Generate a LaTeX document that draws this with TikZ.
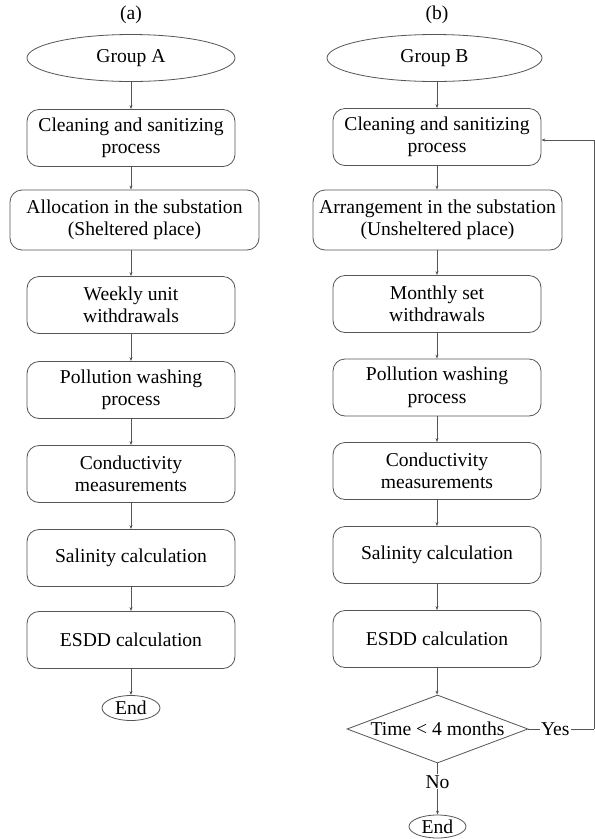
\documentclass[tikz,border=0pt]{standalone}
\usepackage{fontspec}
\setmainfont{Liberation Serif}
\newfontfamily\tnr{Liberation Serif}
\usetikzlibrary{shapes.geometric,arrows.meta}
\definecolor{ln}{HTML}{555555}
\begin{document}
\begin{tikzpicture}[x=1pt,y=-1pt,
  every node/.style={font=\tnr\fontsize{19.6}{22.5}\selectfont, text=black},
  proc/.style={draw=ln, line width=0.8pt, rounded corners=12pt, minimum width=#1, minimum height=57pt, align=center, inner sep=1pt},
  proc/.default=208pt,
  term/.style={draw=ln, line width=0.8pt, ellipse, minimum width=#1, inner sep=0pt, align=center},
  dec/.style={draw=ln, line width=0.8pt, diamond, minimum width=181pt, minimum height=68pt, inner sep=0pt},
  arr/.style={draw=ln, line width=0.7pt, -{Stealth[length=4pt,width=3pt]}},
  lab/.style={fill=white, inner sep=1pt}]
\useasboundingbox (0,0) rectangle (595,839);
\fill[white] (0,0) rectangle (595,839);
% column (a)
\node (ta) at (131,15) {(a)};
\node[term=208pt, minimum height=47pt] (a0) at (131,58) {Group A};
\node[proc] (a1) at (131,138) {Cleaning and sanitizing\\process};
\node[proc=249pt, minimum height=60pt] (a2) at (134.5,220) {Allocation in the substation\\(Sheltered place)};
\node[proc] (a3) at (131,305) {Weekly unit\\withdrawals};
\node[proc] (a4) at (131,390) {Pollution washing\\process};
\node[proc] (a5) at (131,474) {Conductivity\\measurements};
\node[proc] (a6) at (131,558) {Salinity calculation};
\node[proc] (a7) at (131,640) {ESDD calculation};
\node[term=58pt, minimum height=25pt] (a8) at (131,708) {End};
\draw[arr] (a0) -- (a1);
\draw[arr] (a1) -- (a1 |- a2.north);
\draw[arr] (a1 |- a2.south) -- (a3);
\draw[arr] (a3) -- (a4);
\draw[arr] (a4) -- (a5);
\draw[arr] (a5) -- (a6);
\draw[arr] (a6) -- (a7);
\draw[arr] (a7) -- (a8);
% column (b)
\node (tb) at (437,15) {(b)};
\node[term=215pt, minimum height=47pt] (b0) at (434.5,58) {Group B};
\node[proc] (b1) at (437,137) {Cleaning and sanitizing\\process};
\node[proc=249pt, minimum height=60pt] (b2) at (437.5,220) {Arrangement in the substation\\(Unsheltered place)};
\node[proc] (b3) at (437,304) {Monthly set\\withdrawals};
\node[proc] (b4) at (437,387.5) {Pollution washing\\process};
\node[proc] (b5) at (437,471) {Conductivity\\measurements};
\node[proc] (b6) at (437,555) {Salinity calculation};
\node[proc] (b7) at (437,639) {ESDD calculation};
\node[dec] (b8) at (437.5,729) {};
\node (b8t) at (b8) {Time < 4 months};
\node[term=57pt, minimum height=23pt] (b9) at (437.5,826.5) {End};
\coordinate (c1) at (594,729);
\coordinate (c2) at (594,140);
\draw[arr] (b0.south -| b1) -- (b1);
\draw[arr] (b1) -- (b1 |- b2.north);
\draw[arr] (b1 |- b2.south) -- (b3);
\draw[arr] (b3) -- (b4);
\draw[arr] (b4) -- (b5);
\draw[arr] (b5) -- (b6);
\draw[arr] (b6) -- (b7);
\draw[arr] (b7) -- (b7 |- b8.north);
\draw[arr] (b8) -- node[lab, pos=0.36] (no) {No} (b9);
\draw[draw=ln, line width=0.7pt] (b8.east) -- node[lab, pos=0.41] (yes) {Yes} (c1);
\draw[arr] (c1) -- (c2) -- (b1.east |- c2);
\end{tikzpicture}
\end{document}
